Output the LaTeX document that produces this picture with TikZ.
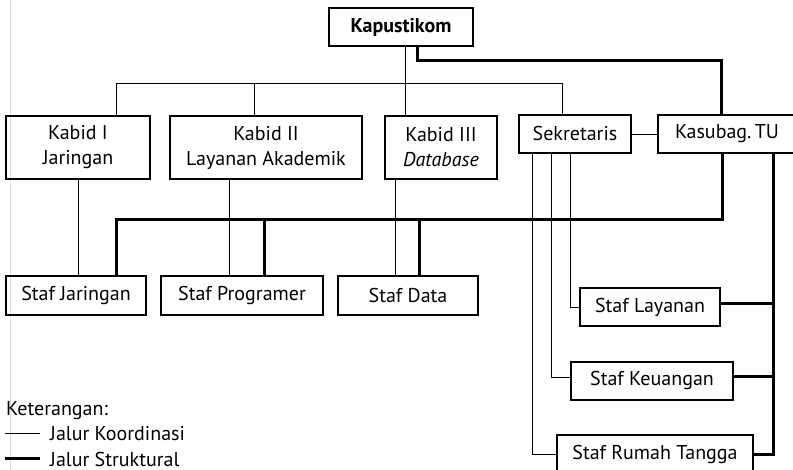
\documentclass[tikz,border=0pt]{standalone}
\usepackage{fontspec}
\setmainfont{PT Sans}
\begin{document}
\begin{tikzpicture}[x=1pt,y=-1pt,
  box/.style={draw,line width=1.6pt,inner sep=0pt,align=center,font=\fontsize{20}{25}\selectfont},
  coord/.style={line width=0.9pt},
  struct/.style={line width=3pt},
  lbl/.style={anchor=base west,inner sep=0pt,font=\fontsize{20}{25}\selectfont}]
\useasboundingbox (0,0) rectangle (793,470);
\draw[black!15,line width=0.9pt] (10,0) -- (10,470);
% nodes
\node[box,minimum width=144pt,minimum height=38pt] (kap) at (401,27) {\textbf{Kapustikom}};
\node[box,minimum width=144pt,minimum height=63pt] (k1) at (78,147.5) {Kabid I\\Jaringan};
\node[box,minimum width=192pt,minimum height=63pt] (k2) at (266,147.5) {Kabid II\\Layanan Akademik};
\node[box,minimum width=112pt,minimum height=63pt] (k3) at (441,147.5) {Kabid III\\\textit{Database}};
\node[box,minimum width=112pt,minimum height=38pt] (sek) at (575,134) {Sekretaris};
\node[box,minimum width=138pt,minimum height=38pt] (kas) at (727,134) {Kasubag.\,TU};
\node[box,minimum width=140pt,minimum height=39pt] (sj) at (76,295.5) {Staf Jaringan};
\node[box,minimum width=162pt,minimum height=39pt] (sp) at (242,295.5) {Staf Programer};
\node[box,minimum width=140pt,minimum height=39pt] (sd) at (408,295.5) {Staf Data};
\node[box,minimum width=140pt,minimum height=38pt] (sl) at (650,307) {Staf Layanan};
\node[box,minimum width=162pt,minimum height=38pt] (sk) at (652,381) {Staf Keuangan};
\node[box,minimum width=196pt,minimum height=38pt] (srt) at (655,454) {Staf Rumah Tangga};
% coordination lines
\draw[coord] ([xshift=38pt]k1.north) -- ++(0,-32) -| ([xshift=-13pt]sek.north);
\draw[coord] ([xshift=-12pt]k2.north) -- ++(0,-32);
\draw[coord] ([xshift=4pt]kap.south) -- ([xshift=4pt]kap.south |- k3.north);
\draw[coord] (sek.east) -- (sek.east -| kas.west);
\draw[coord] (k1.south) -- (k1.south |- sj.north);
\draw[coord] ([xshift=-37pt]k2.south) -- ([xshift=-37pt]k2.south |- sp.north);
\draw[coord] ([xshift=-46pt]k3.south) -- ([xshift=-46pt]k3.south |- sd.north);
\draw[coord] ([xshift=-5pt]sek.south) |- (sl.west);
\draw[coord] ([xshift=-24pt]sek.south) |- ([yshift=4pt]sk.west);
\draw[coord] ([xshift=-43pt]sek.south) |- (srt.west);
% structural lines
\draw[struct] ([xshift=16pt]kap.south) -- ++(0,14) -| ([xshift=-6pt]kas.north);
\draw[struct] ([xshift=-5pt]kas.south) -- ++(0,66) -| ([xshift=40pt]sj.north);
\draw[struct] ([xshift=22pt]sp.north) -- ++(0,-57);
\draw[struct] ([xshift=11pt]sd.north) -- ++(0,-57);
\coordinate (kv) at ([xshift=46pt]kas.south);
\draw[struct] (kv) |- (srt.east);
\draw[struct] ([yshift=3pt]sl.east) -- ([yshift=3pt]sl.east -| kv);
\draw[struct] ([yshift=4pt]sk.east) -- ([yshift=4pt]sk.east -| kv);
% legend
\node[lbl] (ket) at (6,416) {Keterangan:};
\coordinate (la) at (5,433); \coordinate (lb) at (40,433);
\draw[coord] (la) -- (lb);
\node[lbl] (jk) at (50,440) {Jalur Koordinasi};
\coordinate (lc) at (5,458); \coordinate (ld) at (40,458);
\draw[struct] (lc) -- (ld);
\node[lbl] (js) at (50,466) {Jalur Struktural};
\end{tikzpicture}
\end{document}
